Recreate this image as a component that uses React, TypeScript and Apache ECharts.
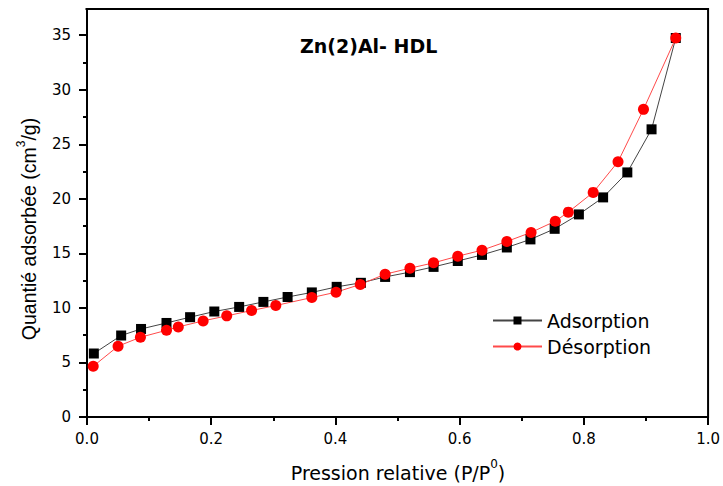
import React, { useEffect, useRef } from "react";
import * as echarts from "echarts";

const adsX = [0.011, 0.055, 0.087, 0.128, 0.166, 0.205, 0.245, 0.284, 0.323, 0.362, 0.402, 0.441, 0.480, 0.520, 0.558, 0.597, 0.636, 0.676, 0.714, 0.753, 0.792, 0.831, 0.870, 0.909, 0.948];
const adsY = [5.82, 7.47, 8.07, 8.62, 9.15, 9.67, 10.09, 10.55, 11.0, 11.42, 11.93, 12.3, 12.84, 13.28, 13.76, 14.3, 14.86, 15.54, 16.28, 17.25, 18.57, 20.13, 22.42, 26.37, 34.74];
const desX = [0.010, 0.050, 0.086, 0.128, 0.147, 0.187, 0.225, 0.265, 0.304, 0.362, 0.401, 0.440, 0.480, 0.520, 0.558, 0.597, 0.636, 0.676, 0.715, 0.754, 0.775, 0.815, 0.855, 0.896, 0.948];
const desY = [4.65, 6.49, 7.31, 7.95, 8.26, 8.81, 9.27, 9.76, 10.22, 10.95, 11.44, 12.15, 13.09, 13.64, 14.13, 14.74, 15.29, 16.09, 16.92, 17.95, 18.78, 20.59, 23.4, 28.2, 34.74];

const seriesNames = ["Adsorption", "Désorption"];
const chartTitle = "Zn(2)Al- HDL";

const FONT = "DejaVu Sans";

export default function App() {
  const ref = useRef<HTMLDivElement>(null);
  useEffect(() => {
    if (!ref.current) return;
    const chart = echarts.init(ref.current, undefined, { renderer: "svg" });
    const zip = (xs: number[], ys: number[]) => xs.map((x, i) => [x, ys[i]]);
    chart.setOption({
      animation: false,
      backgroundColor: "#fff",
      grid: { left: 87, right: 12, top: 9, bottom: 69, show: true, borderColor: "#000", borderWidth: 2, backgroundColor: "transparent" },
      xAxis: {
        type: "value", min: 0, max: 1, interval: 0.2,
        axisLine: { show: true, lineStyle: { color: "#000", width: 2 } },
        axisTick: { show: true, length: 8, lineStyle: { color: "#000", width: 2 } },
        minorTick: { show: true, splitNumber: 2, length: 4, lineStyle: { color: "#000", width: 2 } },
        splitLine: { show: false },
        axisLabel: { color: "#000", fontFamily: FONT, fontSize: 15, margin: 14, formatter: (v: number) => v.toFixed(1) },
      },
      yAxis: {
        type: "value", min: 0, max: 37.4, interval: 5,
        axisLine: { show: true, lineStyle: { color: "#000", width: 2 } },
        axisTick: { show: true, length: 8, lineStyle: { color: "#000", width: 2 } },
        minorTick: { show: true, splitNumber: 2, length: 4, lineStyle: { color: "#000", width: 2 } },
        splitLine: { show: false },
        axisLabel: { color: "#000", fontFamily: FONT, fontSize: 15, margin: 16, showMaxLabel: false },
      },
      legend: {
        left: 487, top: 306, orient: "vertical", itemWidth: 49, itemHeight: 10, itemGap: 7,
        textStyle: { color: "#000", fontFamily: FONT, fontSize: 19 },
        data: seriesNames,
      },
      series: [
        {
          name: seriesNames[0], type: "line", data: zip(adsX, adsY),
          symbol: "rect", symbolSize: 10,
          itemStyle: { color: "#000" },
          lineStyle: { color: "#444", width: 1 },
        },
        {
          name: seriesNames[1], type: "line", data: zip(desX, desY),
          symbol: "circle", symbolSize: 11,
          itemStyle: { color: "#ff0000" },
          lineStyle: { color: "#ff4a4a", width: 1 },
        },
      ],
      graphic: [
        { type: "rect", z: 100, shape: { x: 70, y: 0, width: 15.5, height: 30 }, style: { fill: "#fff" } },
        {
          type: "text", x: 300, y: 46, z: 100,
          style: { text: chartTitle, fontFamily: FONT, fontWeight: "bold", fontSize: 19, fill: "#000", verticalAlign: "middle", align: "left" },
        },
        {
          type: "text", x: 398, y: 470, z: 100,
          style: {
            text: "{n|Pression relative (P/P}{s|0}{n|)}",
            align: "center", verticalAlign: "middle",
            rich: {
              n: { fontFamily: FONT, fontSize: 19, fill: "#000", lineHeight: 24, verticalAlign: "bottom" },
              s: { fontFamily: FONT, fontSize: 12, fill: "#000", lineHeight: 24, verticalAlign: "top" },
            },
          },
        },
        {
          type: "text", x: 27, y: 229, z: 100, rotation: Math.PI / 2,
          style: {
            text: "{n|Quantié adsorbée (cm}{s|3}{n|/g)}",
            align: "center", verticalAlign: "middle",
            rich: {
              n: { fontFamily: "Liberation Sans", fontSize: 19.5, fill: "#000", lineHeight: 24, verticalAlign: "bottom" },
              s: { fontFamily: "Liberation Sans", fontSize: 12, fill: "#000", lineHeight: 24, verticalAlign: "top" },
            },
          },
        },
      ],
    });
    return () => chart.dispose();
  }, []);
  return <div ref={ref} style={{ width: 723, height: 486, position: "absolute", left: 0, top: 0 }} />;
}
